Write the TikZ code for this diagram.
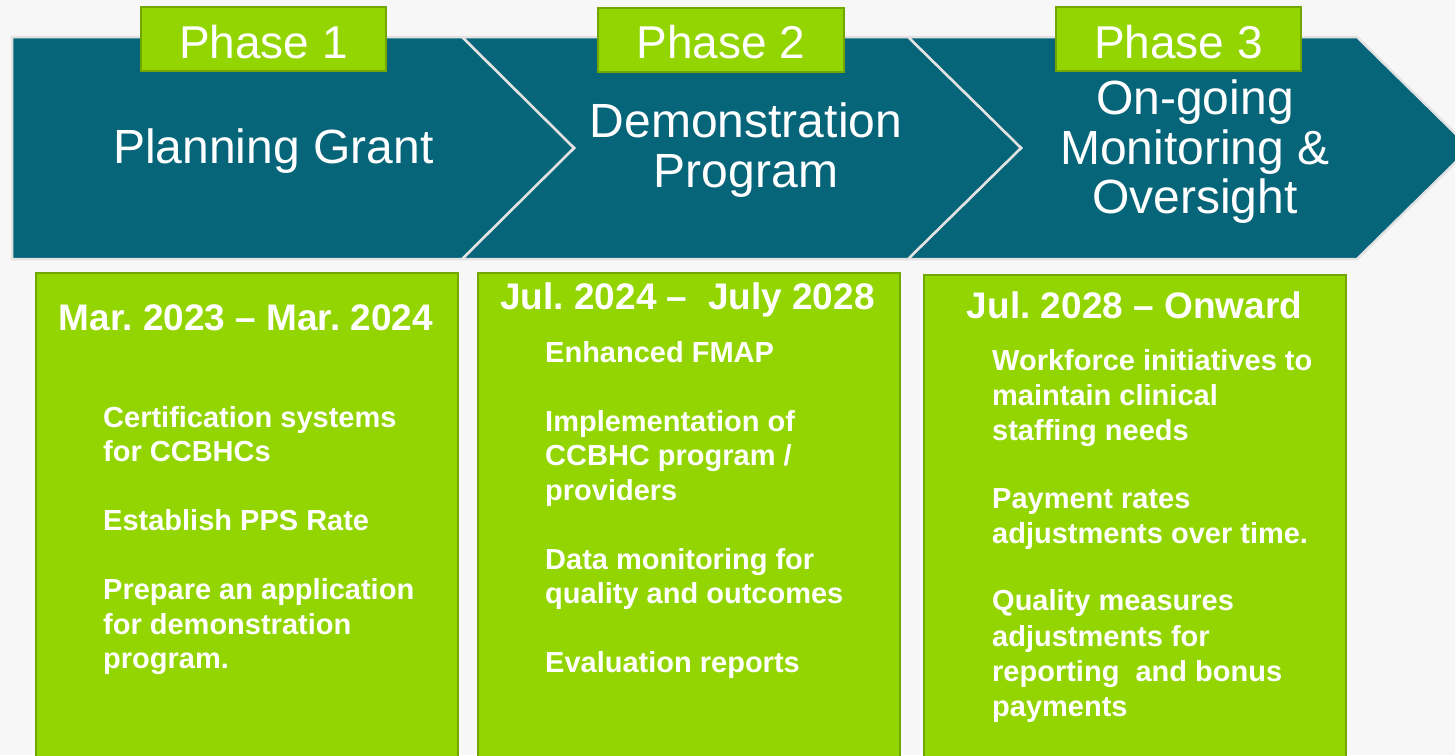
\documentclass[tikz,border=0pt]{standalone}
\usepackage{fontspec}
\setmainfont{Liberation Sans}
\usetikzlibrary{positioning}
\usepackage{xcolor}
\frenchspacing

\definecolor{bandteal}{HTML}{066579}
\definecolor{bandedge}{HTML}{E2E2E2}
\definecolor{limefill}{HTML}{93D500}
\definecolor{limeedge}{HTML}{72A600}

\begin{document}
\begin{tikzpicture}[x=1pt, y=-1pt,
    chevron/.style={
        fill=bandteal,
        draw=bandedge,
        line width=2.5pt
    },
    phasetag/.style={
        rectangle,
        draw=limeedge,
        line width=2pt,
        fill=limefill,
        text=white,
        inner sep=0pt,
        minimum width=245pt,
        minimum height=64pt,
        text height=38pt,
        text depth=0pt,
        font=\fontsize{46}{50}\selectfont
    },
    bandtitle/.style={
        text=white,
        align=center,
        inner sep=0pt,
        font=\fontsize{48}{49.5}\selectfont
    },
    stagebox/.style={
        rectangle,
        draw=limeedge,
        line width=2pt,
        fill=limefill,
        anchor=north west,
        minimum width=422pt,
        minimum height=500pt
    },
    datetext/.style={
        text=white,
        inner sep=0pt,
        anchor=base,
        font=\bfseries\fontsize{37}{40}\selectfont
    },
    itemtext/.style={
        text=white,
        align=left,
        inner sep=0pt,
        anchor=north west,
        font=\bfseries\fontsize{29}{34.5}\selectfont
    }
]
    \useasboundingbox (0,0) rectangle (1455,755);
    \fill[black!3] (0,0) rectangle (1455,755);

    % arrow band, right to left so the edges overlap cleanly
    \draw[chevron] (908,37) -- (1357,37) -- (1470,148) -- (1357,259) -- (908,259) -- (1021,148) -- cycle;
    \draw[chevron] (462,37) -- (908,37) -- (1021,148) -- (908,259) -- (462,259) -- (574,148) -- cycle;
    \draw[chevron] (12,37) -- (462,37) -- (574,148) -- (462,259) -- (12,259) -- cycle;


    \node (phase_one) [phasetag, shift={(263.5,39)}]
    {
        Phase 1
    };

    \node (phase_two) [phasetag, minimum width=246pt, shift={(721,39.5)}]
    {
        Phase 2
    };

    \node (phase_three) [phasetag, shift={(1178.5,39)}]
    {
        Phase 3
    };


    \node (planning_grant) [bandtitle, anchor=base, shift={(280,163)}]
    {
        Planning Grant
    };

    \node (demo_program) [bandtitle, anchor=north, shift={(746,103)}]
    {
        Demonstration\\Program
    };

    \node (ongoing_oversight) [bandtitle, anchor=north, shift={(1195,80)}]
    {
        On-going\\Monitoring \&\\Oversight
    };


    \node (planning_box) [stagebox, shift={(35,272)}] {};
    \node (demo_box) [stagebox, shift={(477,272)}] {};
    \node (oversight_box) [stagebox, shift={(923,274)}] {};


    \node (planning_dates) [datetext, shift={(246,330)}]
    {
        Mar. 2023 -- Mar. 2024
    };

    \node (demo_dates) [datetext, shift={(687.5,309)}]
    {
        Jul. 2024 --\ \ July 2028
    };

    \node (oversight_dates) [datetext, shift={(1134.5,318)}]
    {
        Jul. 2028 -- Onward
    };


    \node (planning_items) [itemtext, shift={(103,406)}]
    {
        Certification systems\\for CCBHCs\\[34.5pt]
        Establish PPS Rate\\[34.5pt]
        Prepare an application\\for demonstration\\program.
    };

    \node (demo_items) [itemtext, shift={(545,341)}]
    {
        Enhanced FMAP\\[34.5pt]
        Implementation of\\CCBHC program /\\providers\\[34.5pt]
        Data monitoring for\\quality and outcomes\\[34.5pt]
        Evaluation reports
    };

    \node (oversight_items) [itemtext, font=\bfseries\fontsize{29}{35.3}\selectfont, shift={(992,349)}]
    {
        Workforce initiatives to\\maintain clinical\\staffing needs\\[32pt]
        Payment rates\\adjustments over time.\\[32pt]
        Quality measures\\adjustments for\\reporting\ \ and bonus\\payments
    };
\end{tikzpicture}
\end{document}
